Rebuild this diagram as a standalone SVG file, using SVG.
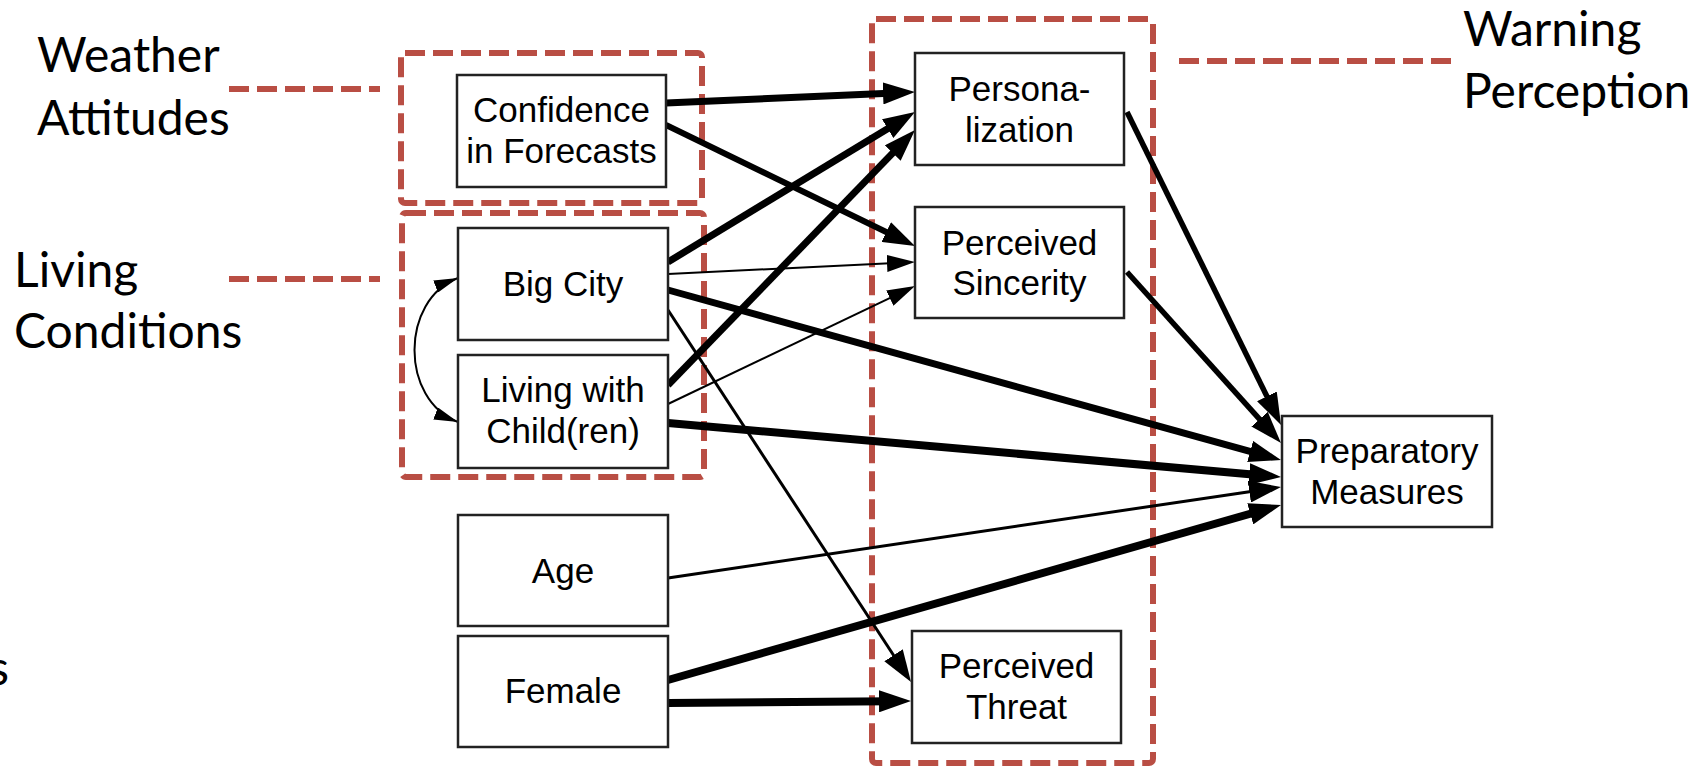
<svg xmlns="http://www.w3.org/2000/svg" width="1703" height="772" viewBox="0 0 1703 772">
  <style>
    .node rect { fill: #ffffff; stroke: #222222; stroke-width: 2.5; }
    .node text { font-family: "Liberation Sans", Arial, sans-serif; font-size: 35px; fill: #000000; text-anchor: middle; }
    .group { fill: none; stroke: #b94e44; stroke-width: 6; stroke-dasharray: 20 8; }
    .lead { fill: none; stroke: #b94e44; stroke-width: 6; stroke-dasharray: 20 8; }
    .label { font-family: Lato, "Open Sans", sans-serif; font-size: 48px; fill: #000000; }
    .edge { fill: none; stroke: #000000; stroke-linecap: butt; }
  </style>
  <defs>
    <marker id="big" markerUnits="userSpaceOnUse" markerWidth="32" markerHeight="22" refX="12" refY="11" orient="auto">
      <path d="M0,0 L32,11 L0,22 z" fill="#000000"/>
    </marker>
    <marker id="small" markerUnits="userSpaceOnUse" markerWidth="28" markerHeight="17" refX="8" refY="8.5" orient="auto">
      <path d="M0,0 L28,8.5 L0,17 z" fill="#000000"/>
    </marker>
    <marker id="curve" markerUnits="userSpaceOnUse" markerWidth="24" markerHeight="13" refX="24" refY="6.5" orient="auto-start-reverse">
      <path d="M0,0 L24,6.5 L0,13 z" fill="#000000"/>
    </marker>
  </defs>

  <!-- group labels and leaders -->
  <g id="label-weather">
    <text class="label" x="37" y="72">Weather</text>
    <text class="label" x="37" y="135">Attitudes</text>
    <line class="lead" x1="229" y1="89" x2="380" y2="89"/>
    <rect class="group" x="401" y="53" width="301" height="150" rx="4"/>
  </g>
  <g id="label-living">
    <text class="label" x="14" y="287">Living</text>
    <text class="label" x="14" y="348">Conditions</text>
    <line class="lead" x1="229" y1="279" x2="380" y2="279"/>
    <rect class="group" x="402" y="213" width="302" height="264" rx="4"/>
  </g>
  <g id="label-warning">
    <text class="label" x="1463" y="46">Warning</text>
    <text class="label" x="1463" y="108">Perception</text>
    <line class="lead" x1="1179" y1="61" x2="1459" y2="61"/>
    <rect class="group" x="872" y="19" width="281" height="744" rx="4"/>
  </g>
  <g id="label-partial">
    <text class="label" x="9" y="685" text-anchor="end">s</text>
  </g>

  <!-- connectors -->
  <g id="connectors">
    <line class="edge" x1="666" y1="103" x2="895.0" y2="92.9" stroke-width="7" marker-end="url(#big)"/>
    <line class="edge" x1="666" y1="125" x2="897.0" y2="237.3" stroke-width="6" marker-end="url(#big)"/>
    <line class="edge" x1="668" y1="262" x2="897.9" y2="122.4" stroke-width="7" marker-end="url(#big)"/>
    <line class="edge" x1="668" y1="274" x2="895.0" y2="263.0" stroke-width="2" marker-end="url(#small)"/>
    <line class="edge" x1="668" y1="290" x2="1261.7" y2="454.7" stroke-width="7" marker-end="url(#big)"/>
    <line class="edge" x1="668" y1="310" x2="900.1" y2="665.3" stroke-width="3" marker-end="url(#big)"/>
    <line class="edge" x1="668" y1="385" x2="901.1" y2="144.4" stroke-width="7" marker-end="url(#big)"/>
    <line class="edge" x1="668" y1="404" x2="897.0" y2="294.6" stroke-width="2" marker-end="url(#small)"/>
    <line class="edge" x1="668" y1="423" x2="1261.1" y2="475.2" stroke-width="8" marker-end="url(#big)"/>
    <line class="edge" x1="668" y1="578" x2="1261.2" y2="489.9" stroke-width="3" marker-end="url(#big)"/>
    <line class="edge" x1="668" y1="680" x2="1261.8" y2="510.5" stroke-width="8" marker-end="url(#big)"/>
    <line class="edge" x1="668" y1="703" x2="891.0" y2="701.2" stroke-width="8" marker-end="url(#big)"/>
    <line class="edge" x1="1127" y1="112" x2="1272.2" y2="407.1" stroke-width="5.5" marker-end="url(#big)"/>
    <line class="edge" x1="1127" y1="272" x2="1267.6" y2="428.1" stroke-width="5.5" marker-end="url(#big)"/>
    <path class="edge" d="M458,278 C400,300 400,400 458,422" stroke-width="2" marker-start="url(#curve)" marker-end="url(#curve)"/>
  </g>

  <!-- nodes -->
  <g id="confidence" class="node">
    <rect x="457" y="75" width="209" height="112"/>
    <text x="561.5" y="122">Confidence</text>
    <text x="561.5" y="163">in Forecasts</text>
  </g>
  <g id="bigcity" class="node">
    <rect x="458" y="228" width="210" height="112"/>
    <text x="563" y="296">Big City</text>
  </g>
  <g id="livingchild" class="node">
    <rect x="458" y="355" width="210" height="113"/>
    <text x="563" y="402">Living with</text>
    <text x="563" y="443">Child(ren)</text>
  </g>
  <g id="age" class="node">
    <rect x="458" y="515" width="210" height="111"/>
    <text x="563" y="583">Age</text>
  </g>
  <g id="female" class="node">
    <rect x="458" y="636" width="210" height="111"/>
    <text x="563" y="703">Female</text>
  </g>
  <g id="personalization" class="node">
    <rect x="915" y="53" width="209" height="112"/>
    <text x="1019.5" y="101">Persona-</text>
    <text x="1019.5" y="142">lization</text>
  </g>
  <g id="sincerity" class="node">
    <rect x="915" y="207" width="209" height="111"/>
    <text x="1019.5" y="255">Perceived</text>
    <text x="1019.5" y="295">Sincerity</text>
  </g>
  <g id="threat" class="node">
    <rect x="912" y="631" width="209" height="112"/>
    <text x="1016.5" y="678">Perceived</text>
    <text x="1016.5" y="719">Threat</text>
  </g>
  <g id="preparatory" class="node">
    <rect x="1282" y="416" width="210" height="111"/>
    <text x="1387" y="463">Preparatory</text>
    <text x="1387" y="504">Measures</text>
  </g>
</svg>
